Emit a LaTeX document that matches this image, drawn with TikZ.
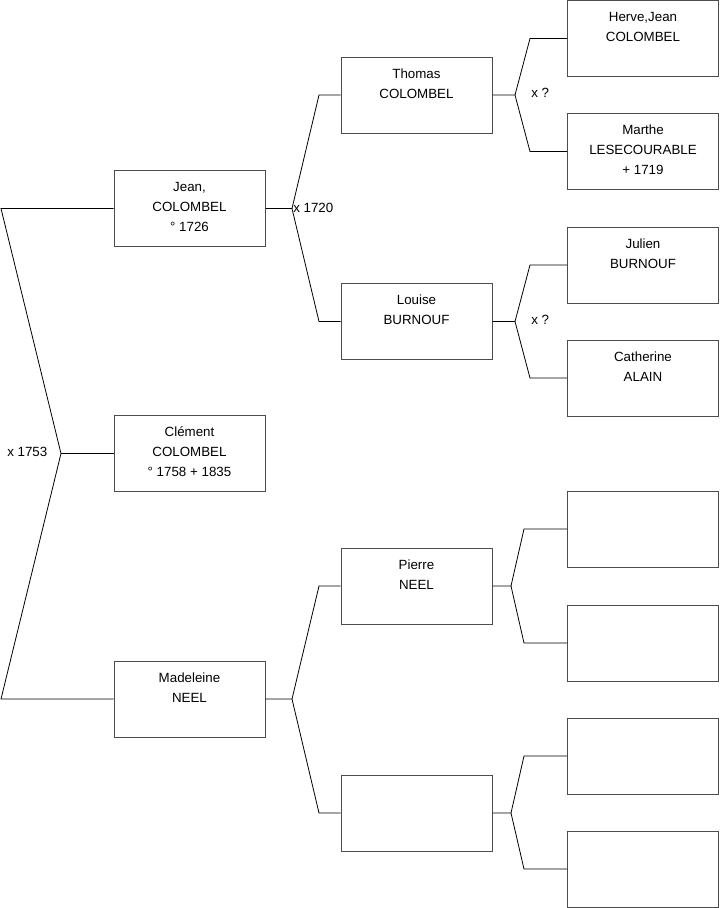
\documentclass[tikz,border=0pt]{standalone}
\usepackage{fontspec}
\setmainfont{Liberation Sans}
\usetikzlibrary{positioning}

\definecolor{boxline}{gray}{0.3}
% card text: top aligned lines inside a box
\newcommand{\card}[1]{\parbox[t][57pt][t]{113pt}{\centering\baselineskip=15pt\rule{0pt}{16pt}#1}}

\begin{document}
\begin{tikzpicture}[x=0.75pt,y=-0.75pt,
    person/.style={draw=boxline, line width=0.75pt, minimum width=113.25pt, minimum height=57pt, inner sep=0pt, font=\fontsize{10}{15}\selectfont},
    link/.style={draw=black, line width=0.6pt},
    marriage/.style={anchor=west, inner sep=0pt, font=\fontsize{10}{12}\selectfont}]
    % Define column positions
    \def\colA{189.5}
    \def\colB{416.5}
    \def\colC{643}
    \useasboundingbox (0,0) rectangle (719,908);
    % First column
    \node[person] (jean) at (\colA,208.5) {\card{Jean,\\COLOMBEL\\° 1726}};
    \node[person] (clement) at (\colA,453.5) {\card{Clément\\COLOMBEL\\° 1758 + 1835}};
    \node[person] (madeleine) at (\colA,699) {\card{Madeleine\\NEEL}};
    % Second column
    \node[person] (thomas) at (\colB,95) {\card{Thomas\\COLOMBEL}};
    \node[person] (louise) at (\colB,321.5) {\card{Louise\\BURNOUF}};
    \node[person] (pierre) at (\colB,586) {\card{Pierre\\NEEL}};
    \node[person] (unknown) at (\colB,813) {};
    % Third column
    \node[person] (herve) at (\colC,38.5) {\card{Herve,Jean\\COLOMBEL}};
    \node[person] (marthe) at (\colC,151.5) {\card{Marthe\\LESECOURABLE\\+ 1719}};
    \node[person] (julien) at (\colC,265) {\card{Julien\\BURNOUF}};
    \node[person] (catherine) at (\colC,378) {\card{Catherine\\ALAIN}};
    \foreach \n/\y in {e1/529,e2/643,e3/756,e4/869}
        \node[person] (\n) at (\colC,\y) {};
    % Parents forks
    \foreach \p/\jx/\bx/\u/\l in {jean/292/319/thomas/louise, thomas/515/530/herve/marthe,
            louise/515/530/julien/catherine, madeleine/292/319/pierre/unknown,
            pierre/511/524/e1/e2, unknown/511/524/e3/e4}{
        \draw[link] (\p.east) -- (\p.east -| \jx,0) -- (\u.west -| \bx,0) -- (\u.west);
        \draw[link] (\p.east -| \jx,0) -- (\l.west -| \bx,0) -- (\l.west);
    }
    % Couple of Jean and Madeleine
    \draw[link] (jean.west) -- (jean.west -| 1,0) -- (clement.west -| 61,0)
        -- (madeleine.west -| 1,0) -- (madeleine.west);
    \draw[link] (clement.west -| 61,0) -- (clement.west);
    % Marriage dates
    \node[marriage] (m1753) at (7,452) {x 1753};
    \node[marriage] (m1720) at (293,208) {x 1720};
    \node[marriage] (mthomas) at (531,93) {x ?};
    \node[marriage] (mlouise) at (531,320) {x ?};
\end{tikzpicture}
\end{document}
